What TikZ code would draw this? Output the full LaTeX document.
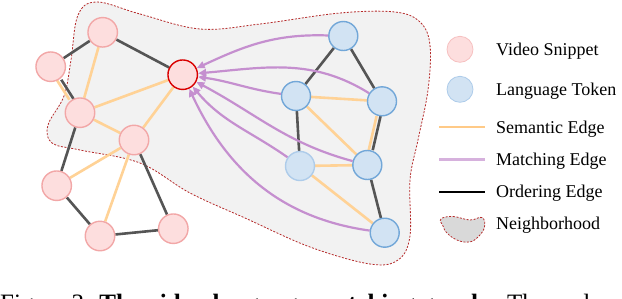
\documentclass[tikz,border=0pt]{standalone}
\usepackage{fontspec}
\setmainfont{Liberation Serif}
\usetikzlibrary{arrows.meta,backgrounds}
\definecolor{pinkfill}{HTML}{FDDEDE}
\definecolor{pinkdraw}{HTML}{F2A7A7}
\definecolor{bluefill}{HTML}{D2E3F3}
\definecolor{bluedraw}{HTML}{72A7D8}
\definecolor{bluelight}{HTML}{AECCEA}
\definecolor{ordcol}{HTML}{555555}
\definecolor{semcol}{HTML}{FFD296}
\definecolor{matcol}{HTML}{C58FCF}
\definecolor{hoodcol}{HTML}{B52A2A}
\definecolor{hoodfill}{HTML}{F2F2F2}
\tikzset{
  vid/.style={circle,fill=pinkfill,draw=pinkdraw,line width=1.4pt,minimum size=29.5pt,inner sep=0pt},
  vidc/.style={vid,draw=red!85!black},
  tok/.style={circle,fill=bluefill,draw=bluedraw,line width=1.4pt,minimum size=29pt,inner sep=0pt},
  ord/.style={draw=ordcol,line width=2.6pt},
  sem/.style={draw=semcol,line width=2.6pt},
  mat/.style={draw=matcol,line width=2.2pt,-{Triangle[length=8pt,width=7pt]}},
  hood/.style={draw=hoodcol,line width=0.8pt,dash pattern=on 2pt off 1.5pt},
  legtext/.style={anchor=base west,font=\fontsize{18}{20}\selectfont,inner sep=0pt}
}
\begin{document}
\begin{tikzpicture}[x=1pt,y=-1pt]
\useasboundingbox (0,0) rectangle (622,298);
% video nodes
\node[vid] (A) at (102.7,32.3) {};
\node[vid] (B) at (50.7,66.7) {};
\node[vidc] (C) at (182.7,74.7) {};
\node[vid] (D) at (80,112.7) {};
\node[vid] (E) at (134,140) {};
\node[vid] (F) at (56.7,185.7) {};
\node[vid] (G) at (100,236) {};
\node[vid] (H) at (173.3,228.7) {};
% token nodes
\node[tok] (P) at (343.3,36) {};
\node[tok] (Q) at (296,96) {};
\node[tok] (R) at (382,101.3) {};
\node[tok,draw=bluelight] (S) at (300,166) {};
\node[tok] (T) at (367.3,165) {};
\node[tok] (U) at (384.7,232.7) {};
\begin{scope}[on background layer]
\draw[hood,fill=hoodfill] plot[smooth cycle,tension=0.6] coordinates {
 (97,2) (140,14) (200,29) (260,24) (340,13) (395,12) (420,22) (430,45)
 (428,90) (418,140) (410,180) (410,236) (398,260) (370,264) (310,247)
 (245,218) (190,193) (140,163) (80,150) (52,143) (48,125) (64,96) (71,60) (78,15)};
% ordering edges
\draw[ord] (A) -- (B);
\draw[ord] (A) -- (C);
\draw[ord,transform canvas={xshift=2.3pt}] (B) -- (D);
\draw[ord] (D) -- (F);
\draw[ord] (F) -- (G);
\draw[ord] (G) -- (H);
\draw[ord] (H) -- (E);
\draw[ord] (P) -- (Q);
\draw[ord] (P) -- (R);
\draw[ord] (Q) -- (S);
\draw[ord,transform canvas={xshift=2pt}] (R) -- (T);
\draw[ord] (T) -- (U);
% semantic edges
\draw[sem] (A) -- (D);
\draw[sem,transform canvas={xshift=-2.3pt}] (B) -- (D);
\draw[sem] (D) -- (C);
\draw[sem] (D) -- (E);
\draw[sem] (E) -- (C);
\draw[sem] (E) -- (F);
\draw[sem] (E) -- (G);
\draw[sem] (Q) -- (R);
\draw[sem] (Q) -- (T);
\draw[sem] (S) -- (T);
\draw[sem] (S) -- (U);
\draw[sem,transform canvas={xshift=-2pt}] (R) -- (T);
\end{scope}
% matching edges
\draw[mat] (P) to[out=178,in=25] (C);
\draw[mat] (R) to[out=148,in=5] (C);
\draw[mat] (Q) to[out=172,in=-8] (C);
\draw[mat] (T) to[out=165,in=-28] (C);
\draw[mat] (S) to[out=145,in=-50] (C);
\draw[mat] (U) to[out=172,in=-65] (C);
% legend
\node[circle,fill=pinkfill,draw=pinkdraw!70!white,line width=0.8pt,minimum size=26pt,inner sep=0pt] (lv) at (460,49.3) {};
\node[legtext] (tv) at (496,55) {Video Snippet};
\node[circle,fill=bluefill,draw=bluelight,line width=0.8pt,minimum size=26pt,inner sep=0pt] (lt) at (460,89.3) {};
\node[legtext] (tt) at (496,95) {Language Token};
\coordinate (s1) at (439,127); \coordinate (s2) at (485,127);
\draw[draw=semcol!90!orange,line width=2.4pt] (s1) -- (s2);
\node[legtext] (ts) at (496,133) {Semantic Edge};
\coordinate (m1) at (439,159.3); \coordinate (m2) at (485,159.3);
\draw[draw=matcol!70!white,line width=2.4pt] (m1) -- (m2);
\node[legtext] (tm) at (496,165.5) {Matching Edge};
\coordinate (o1) at (439,191.7); \coordinate (o2) at (485,191.7);
\draw[draw=black,line width=2.4pt] (o1) -- (o2);
\node[legtext] (to) at (496,197) {Ordering Edge};
\draw[hood,fill=black!15] plot[smooth cycle,tension=0.7] coordinates {
 (441,219) (453,216.5) (470,220) (482,217.5) (484.5,227) (478,237) (469,242) (457,240) (447,233) (443,226)};
\node[legtext] (tn) at (496,229.5) {Neighborhood};
% caption (cut off at the bottom)
\node[anchor=base west,inner sep=0pt,font=\fontsize{25}{27}\selectfont] (cap) at (0,311.5)
 {Figure 3: \textbf{The video-language matching graph.}\hspace{0.3em} The node};
\end{tikzpicture}
\end{document}
